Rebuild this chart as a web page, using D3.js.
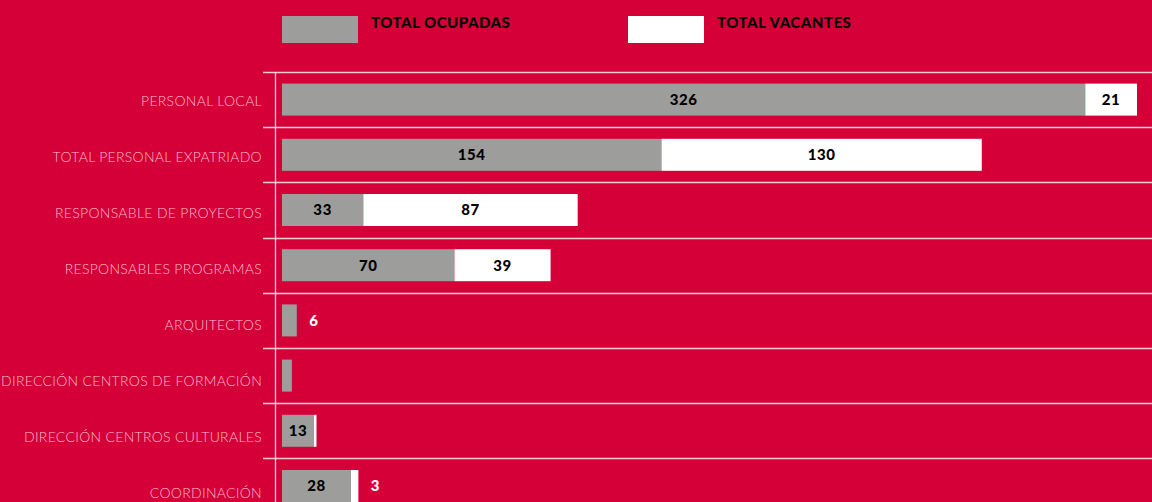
<!DOCTYPE html>
<html>
<head>
<meta charset="utf-8">
<script src="https://cdn.jsdelivr.net/npm/d3@7"></script>
<style>
  html, body { margin: 0; padding: 0; background: #d50037; }
  svg { display: block; }
</style>
</head>
<body>
<svg id="chart" width="1152" height="502"></svg>
<script>
// categorias y valores
var categorias = [
  'PERSONAL LOCAL',
  'TOTAL PERSONAL EXPATRIADO',
  'RESPONSABLE DE PROYECTOS',
  'RESPONSABLES PROGRAMAS',
  'ARQUITECTOS',
  'DIRECCIÓN CENTROS DE FORMACIÓN',
  'DIRECCIÓN CENTROS CULTURALES',
  'COORDINACIÓN'
];
var ocupadas = [326, 154, 33, 70, 6, 4, 13, 28];
var vacantes = [21, 130, 87, 39, 0, 0, 1, 3];
var series = ['TOTAL OCUPADAS', 'TOTAL VACANTES'];
// filas cuyo valor no lleva etiqueta en el original
var sinEtiqueta = ['DIRECCIÓN CENTROS DE FORMACIÓN'];

var colores = ['#9d9d9c', '#ffffff'];
var svg = d3.select('#chart');

var x = d3.scaleLinear().domain([0, 347]).range([282, 1137]);
var y = d3.scaleBand().domain(categorias).range([72, 72 + 8 * 55.2]);
var yLabel = d3.scaleBand().domain(categorias).range([73, 73 + 8 * 56]);
var barH = 32;

// lineas horizontales
svg.append('g')
  .selectAll('line')
  .data(categorias)
  .enter()
  .append('line')
  .attr('x1', 263)
  .attr('x2', 1152)
  .attr('y1', function (d) { return Math.round(y(d)) + 0.5; })
  .attr('y2', function (d) { return Math.round(y(d)) + 0.5; })
  .attr('stroke', 'rgba(255,255,255,0.8)')
  .attr('stroke-width', 1.3);

// eje vertical
svg.append('line')
  .attr('x1', 275.5).attr('x2', 275.5)
  .attr('y1', 72).attr('y2', 502)
  .attr('stroke', 'rgba(255,255,255,0.8)')
  .attr('stroke-width', 1.3);

// etiquetas de categorias
svg.append('g')
  .selectAll('text')
  .data(categorias)
  .enter()
  .append('text')
  .attr('x', 262)
  .attr('y', function (d) { return yLabel(d) + yLabel.bandwidth() / 2; })
  .attr('dy', '0.36em')
  .attr('text-anchor', 'end')
  .attr('font-family', 'Lato, sans-serif')
  .attr('font-size', 14)
  .attr('font-weight', 300)
  .attr('letter-spacing', 0.3)
  .attr('fill', '#fbbccc')
  .text(function (d) { return d; });

var filas = categorias.map(function (c, i) {
  return { cat: c, o: ocupadas[i], v: vacantes[i] };
});

var barY = function (d) { return y(d.cat) + (y.bandwidth() - barH) / 2; };

var rows = svg.append('g')
  .selectAll('g')
  .data(filas)
  .enter()
  .append('g');

rows.append('rect')
  .attr('x', x(0))
  .attr('y', barY)
  .attr('width', function (d) { return x(d.o) - x(0); })
  .attr('height', barH)
  .attr('fill', colores[0]);

rows.append('rect')
  .attr('x', function (d) { return x(d.o); })
  .attr('y', barY)
  .attr('width', function (d) { return x(d.o + d.v) - x(d.o); })
  .attr('height', barH)
  .attr('fill', colores[1]);

// etiquetas de valores
var etiquetas = [];
filas.forEach(function (d) {
  if (sinEtiqueta.indexOf(d.cat) < 0 && d.o > 0) {
    etiquetas.push({ d: d, v: d.o, x0: 0, x1: d.o });
  }
  if (d.v > 1) {
    etiquetas.push({ d: d, v: d.v, x0: d.o, x1: d.o + d.v });
  }
});

svg.append('g')
  .selectAll('text')
  .data(etiquetas)
  .enter()
  .append('text')
  .attr('x', function (e) {
    var w = x(e.x1) - x(e.x0);
    return w > 25 ? (x(e.x0) + x(e.x1)) / 2 : x(e.x1) + 17;
  })
  .attr('y', function (e) { return barY(e.d) + barH / 2; })
  .attr('dy', '0.36em')
  .attr('text-anchor', 'middle')
  .attr('font-family', 'Lato, sans-serif')
  .attr('font-size', 15)
  .attr('font-weight', 900)
  .attr('letter-spacing', 0.6)
  .attr('fill', function (e) {
    return x(e.x1) - x(e.x0) > 25 ? '#000000' : '#ffffff';
  })
  .text(function (e) { return e.v; });

// leyenda
var legX = [282, 628];
var leyenda = svg.append('g')
  .selectAll('g')
  .data(series)
  .enter()
  .append('g');

leyenda.append('rect')
  .attr('x', function (d, i) { return legX[i]; })
  .attr('y', 16)
  .attr('width', 76)
  .attr('height', 27)
  .attr('fill', function (d, i) { return colores[i]; });

leyenda.append('text')
  .attr('x', function (d, i) { return legX[i] + 89; })
  .attr('y', 28)
  .attr('font-family', 'Lato, sans-serif')
  .attr('font-size', 15)
  .attr('font-weight', 900)
  .attr('letter-spacing', 0.5)
  .attr('fill', '#000000')
  .text(function (d) { return d; });
</script>
</body>
</html>
